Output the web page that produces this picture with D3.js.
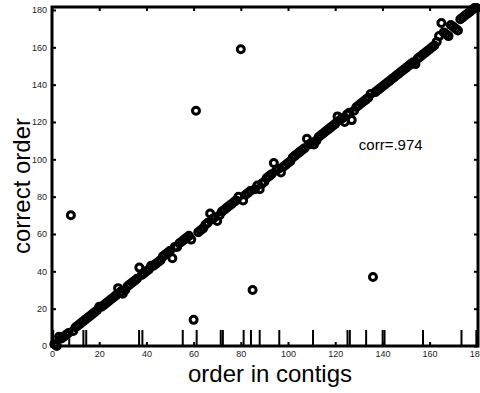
<!DOCTYPE html>
<html lang="en">
    <head>
        <meta charset="utf-8">
        <title>contig order</title>
        <script src="https://d3js.org/d3.v7.min.js"></script>
        <style media="screen">
        body { margin: 0; background: #fff; }
        .axis path { display: none; }
        .axis line { stroke: black; stroke-width: 2; }
        .axis text {
          font-family: "Liberation Sans", Arial, sans-serif;
          font-size: 9px;
          fill: #222;
        }
        .label {
          font-family: "Liberation Sans", Arial, sans-serif;
          font-size: 24px;
          fill: black;
        }
        </style>
    </head>
    <body>
        <script type="text/javascript">
        'use strict'
        // position of each contig in the assembly
        let orderInContigs = [
          1, 2, 3, 4, 5, 6, 7, 8, 9, 10, 11, 12, 13, 14, 15, 16, 17, 18, 19, 20,
          21, 22, 23, 24, 25, 26, 27, 28, 29, 30, 31, 32, 33, 34, 35, 36, 37, 38, 39, 40,
          41, 42, 43, 44, 45, 46, 47, 48, 49, 50, 51, 52, 53, 54, 55, 56, 57, 58, 59, 60,
          61, 62, 63, 64, 65, 66, 67, 68, 69, 70, 71, 72, 73, 74, 75, 76, 77, 78, 79, 80,
          81, 82, 83, 84, 85, 86, 87, 88, 89, 90, 91, 92, 93, 94, 95, 96, 97, 98, 99, 100,
          101, 102, 103, 104, 105, 106, 107, 108, 109, 110, 111, 112, 113, 114, 115, 116, 117, 118, 119, 120,
          121, 122, 123, 124, 125, 126, 127, 128, 129, 130, 131, 132, 133, 134, 135, 136, 137, 138, 139, 140,
          141, 142, 143, 144, 145, 146, 147, 148, 149, 150, 151, 152, 153, 154, 155, 156, 157, 158, 159, 160,
          161, 162, 163, 164, 165, 166, 167, 168, 169, 170, 171, 172, 173, 174, 175, 176, 177, 178, 179, 180
        ]
        // true position of the same contig
        let correctOrder = [
          1, 0, 5, 4, 5, 6, 7, 70, 8, 10, 11, 12, 13, 14, 15, 16, 17, 18, 19, 21,
          21, 22, 23, 24, 25, 26, 27, 31, 29, 28, 30, 32, 33, 34, 35, 36, 42, 38, 39, 40,
          41, 43, 43, 44, 45, 46, 48, 49, 50, 51, 47, 53, 53, 55, 56, 57, 58, 59, 57, 14,
          126, 61, 62, 63, 65, 66, 71, 68, 69, 67, 70, 72, 73, 74, 75, 76, 77, 78, 80, 159,
          78, 81, 82, 83, 30, 84, 86, 84, 87, 88, 90, 91, 92, 98, 94, 95, 93, 96, 97, 98,
          99, 101, 102, 103, 104, 105, 106, 111, 108, 109, 108, 110, 112, 113, 114, 115, 116, 117, 118, 119,
          123, 121, 122, 120, 124, 125, 121, 126, 128, 129, 130, 131, 132, 133, 135, 37, 136, 137, 138, 139,
          140, 141, 142, 143, 144, 145, 146, 147, 148, 149, 150, 151, 152, 151, 154, 155, 156, 157, 158, 159,
          160, 161, 163, 166, 173, 168, 167, 166, 172, 171, 170, 169, 175, 176, 177, 178, 179, 180, 181, 181
        ]
        // contig boundaries marked along the bottom
        let boundaries = [0.5, 7.3, 13.3, 14.5, 36.9, 38.3, 55.4, 61.3, 71.5, 72.4, 81.2, 84.3, 88,
          96.3, 110.6, 125.2, 126.2, 133.1, 140.1, 140.9, 157.2, 173.5, 179.8]
        let ticks = [0, 20, 40, 60, 80, 100, 120, 140, 160, 180]
        let corrText = "corr=.974"

        let w = 480
        let h = 393
        let padL = 52, padR = 478, padT = 7, padB = 346

        let xScale = d3.scaleLinear()
                  .domain([0, 180.5])
                  .range([padL, padR])
        let yScale = d3.scaleLinear()
                  .domain([0, 181.6])
                  .range([padB, padT])

        let svg = d3.select("body")
          .append("svg")
          .attr("width", w)
          .attr("height", h)

        // boundary rug
        svg.selectAll("line.rug")
          .data(boundaries)
          .enter()
          .append("line")
          .attr("class", "rug")
          .attr("x1", (d) => xScale(d))
          .attr("x2", (d) => xScale(d))
          .attr("y1", padB)
          .attr("y2", padB - 16)
          .attr("stroke", "black")
          .attr("stroke-width", 2)

        svg.selectAll("circle")
          .data(orderInContigs)
          .enter()
          .append("circle")
          .attr("cx", (d) => xScale(d))
          .attr("cy", (d, i) => yScale(correctOrder[i]))
          .attr("r", 3.5)
          .attr("fill", "none")
          .attr("stroke", "black")
          .attr("stroke-width", 3)

        svg.append("g")
          .attr("class", "axis")
          .attr("transform", "translate(0," + padB + ")")
          .call(d3.axisBottom(xScale).tickValues(ticks).tickSize(-4).tickPadding(5))

        svg.append("g")
          .attr("class", "axis")
          .attr("transform", "translate(" + padL + ",0)")
          .call(d3.axisLeft(yScale).tickValues(ticks).tickSize(-4).tickPadding(5))

        svg.append("g")
          .attr("class", "axis")
          .attr("transform", "translate(0," + padT + ")")
          .call(d3.axisTop(xScale).tickValues(ticks).tickSize(-4).tickFormat(""))

        svg.append("g")
          .attr("class", "axis")
          .attr("transform", "translate(" + padR + ",0)")
          .call(d3.axisRight(yScale).tickValues(ticks).tickSize(-4).tickFormat(""))

        svg.append("rect")
          .attr("x", padL)
          .attr("y", padT)
          .attr("width", padR - padL)
          .attr("height", padB - padT)
          .attr("fill", "none")
          .attr("stroke", "black")
          .attr("stroke-width", 3)

        svg.append("text")
          .attr("x", xScale(130))
          .attr("y", yScale(105))
          .attr("font-family", "Liberation Sans, Arial, sans-serif")
          .attr("font-size", "15px")
          .text(corrText)

        svg.append("text")
          .attr("class", "label")
          .attr("x", 270)
          .attr("y", 382)
          .attr("text-anchor", "middle")
          .text("order in contigs")

        svg.append("text")
          .attr("class", "label")
          .attr("transform", "translate(30,186) rotate(-90)")
          .attr("text-anchor", "middle")
          .text("correct order")

        </script>
    </body>
</html>
